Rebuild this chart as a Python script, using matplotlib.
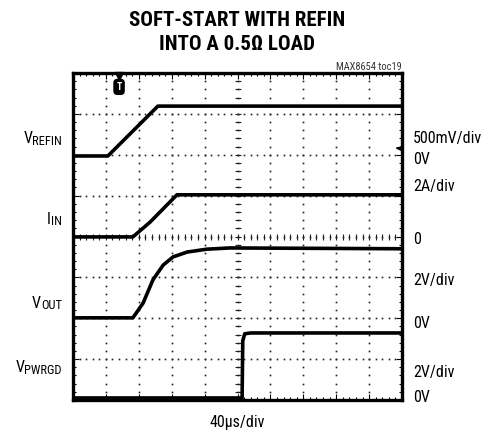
import numpy as np
import matplotlib
matplotlib.use("Agg")
import matplotlib.pyplot as plt
from matplotlib import font_manager

# scope traces, x in divisions (0..10), y in divisions (0..8 from bottom)
vrefin_x = [0.0, 1.06, 2.58, 10.0]
vrefin_y = [5.97, 5.97, 7.19, 7.19]

iin_x = [0.0, 1.82, 2.34, 3.16, 10.0]
iin_y = [3.99, 3.99, 4.35, 5.02, 5.02]

vout_x = [0.0, 1.82, 2.13, 2.43, 2.74, 3.04, 3.47, 4.07, 4.77, 10.0]
vout_y = [2.01, 2.01, 2.37, 2.94, 3.30, 3.50, 3.62, 3.69, 3.72, 3.70]

pwrgd_x = [0.0, 5.14, 5.16, 5.22, 5.40, 10.0]
pwrgd_y = [0.05, 0.05, 1.45, 1.62, 1.64, 1.64]

left_labels = [("V", "REFIN"), ("I", "IN"), ("V", "OUT"), ("V", "PWRGD")]
left_label_y = [138, 218, 302, 367]          # pixel rows (top = 0)
right_labels = ["500mV/div", "0V", "2A/div", "0", "2V/div", "0V", "2V/div", "0V"]
right_label_y = [139, 159, 187, 239, 280, 324, 373, 398]

trigger_x = 1.40
title_lines = ["SOFT-START WITH REFIN", "INTO A 0.5\u03a9 LOAD"]

W, H = 484, 434
names = {f.name for f in font_manager.fontManager.ttflist}
narrow = "DejaVu Sans"
for cand in ["Roboto Condensed", "Archivo Narrow", "PT Sans Narrow",
             "Liberation Sans Narrow", "Barlow Semi Condensed", "Open Sans Condensed"]:
    if cand in names:
        narrow = cand
        break

fig = plt.figure(figsize=(W / 100, H / 100), dpi=100)
ax = fig.add_axes([73 / W, (H - 400) / H, 329 / W, 327 / H])
ax.set_xlim(0, 10)
ax.set_ylim(0, 8)

# dotted graticule
minor = np.arange(0, 10.001, 0.2)
minor_y = np.arange(0, 8.001, 0.2)
for gy in range(1, 8):
    ax.plot(minor, np.full_like(minor, gy), ls="none", marker="s", ms=1.2, color="#222222", mew=0)
for gx in range(1, 10):
    ax.plot(np.full_like(minor_y, gx), minor_y, ls="none", marker="s", ms=1.2, color="#222222", mew=0)
# center crosshair with tick marks
ax.plot(minor, np.full_like(minor, 4), ls="none", marker="|", ms=4, color="#222222", mew=0.8)
ax.plot(np.full_like(minor_y, 5), minor_y, ls="none", marker="_", ms=4, color="#222222", mew=0.8)

# traces
for xs, ys in [(vrefin_x, vrefin_y), (iin_x, iin_y), (vout_x, vout_y), (pwrgd_x, pwrgd_y)]:
    ax.plot(xs, ys, color="black", lw=2.6, solid_joinstyle="round", solid_capstyle="butt")

# trigger marker and ground reference arrow
ax.plot([trigger_x], [7.93], marker="v", ms=5.5, color="black", clip_on=False)
ax.text(trigger_x, 7.66, "T", ha="center", va="center", color="white", fontsize=7,
        fontweight="bold", family=narrow,
        bbox=dict(boxstyle="round,pad=0.25,rounding_size=0.35", fc="black", ec="black"))
ax.plot([9.93], [6.17], marker="<", ms=4, color="black")
ax.plot([9.85, 10.0], [6.17, 6.17], color="black", lw=1.2)

ax.set_xticks(range(11))
ax.set_yticks(range(9))
ax.set_xticks(minor, minor=True)
ax.set_yticks(minor_y, minor=True)
ax.tick_params(which="both", direction="in", top=True, right=True,
               labelbottom=False, labelleft=False, width=0.8, color="black")
ax.tick_params(which="major", length=4)
ax.tick_params(which="minor", length=2.5)
for s in ax.spines.values():
    s.set_linewidth(2.4)

# text in pixel coords
def px(x, y):
    return x / W, 1 - y / H

fig.text(*px(237, 20), title_lines[0], ha="center", va="center", fontsize=15,
         fontweight="bold", family=narrow)
fig.text(*px(237, 45), title_lines[1], ha="center", va="center", fontsize=15,
         fontweight="bold", family=narrow)
fig.text(*px(402, 67), "MAX8654 toc19", ha="right", va="center", fontsize=7.5, family=narrow,
         color="#333333")

for (main, sub), y in zip(left_labels, left_label_y):
    t = fig.text(*px(62, y + 7), sub, ha="right", va="baseline", fontsize=9, family=narrow)
    fig.canvas.draw()
    bb = t.get_window_extent()
    fig.text(bb.x0 / W, 1 - (y + 5.5) / H, main, ha="right", va="baseline", fontsize=11.5,
             family=narrow)

for lab, y in zip(right_labels, right_label_y):
    fig.text(*px(413, y), lab, ha="left", va="center", fontsize=11.5, family=narrow)

fig.text(*px(237, 422), "40\u03bcs/div", ha="center", va="center", fontsize=11.5, family=narrow)

fig.savefig("out.png", dpi=100)
